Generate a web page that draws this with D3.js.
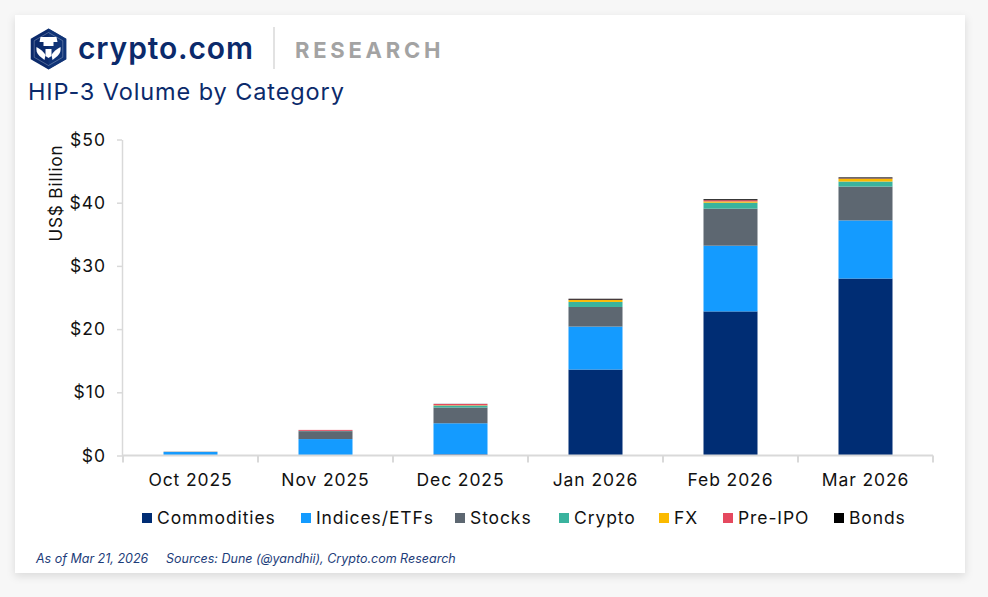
<!DOCTYPE html>
<html>
<head>
<meta charset="utf-8">
<script src="https://cdn.jsdelivr.net/npm/d3@7/dist/d3.min.js"></script>
<style>
  html, body { margin: 0; padding: 0; background: #f7f7f7; }
  svg { display: block; }
  text { font-family: Inter, "Noto Sans", sans-serif; }
</style>
</head>
<body>
<svg id="chart" width="988" height="597"></svg>
<script>
const months = ["Oct 2025", "Nov 2025", "Dec 2025", "Jan 2026", "Feb 2026", "Mar 2026"];
const seriesNames = ["Commodities", "Indices/ETFs", "Stocks", "Crypto", "FX", "Pre-IPO", "Bonds"];
const commodities = [0, 0, 0.2, 13.6, 22.8, 28.0];
const indices     = [0.55, 2.6, 4.9, 6.8, 10.4, 9.2];
const stocks      = [0.05, 1.25, 2.5, 3.1, 5.85, 5.35];
const crypto      = [0, 0.05, 0.3, 0.8, 0.95, 0.8];
const fx          = [0, 0, 0.05, 0.3, 0.2, 0.45];
const preIpo      = [0, 0.15, 0.2, 0.05, 0.2, 0.05];
const bonds       = [0, 0, 0.02, 0.15, 0.15, 0.15];
const yTicks = [0, 10, 20, 30, 40, 50];
const colors = ["#002D74", "#149BFF", "#5D6771", "#3AB39E", "#FBBA00", "#E5495F", "#000000"];

const seriesValues = [commodities, indices, stocks, crypto, fx, preIpo, bonds];
const table = months.map((m, i) => {
  const row = { month: m };
  seriesNames.forEach((s, j) => row[s] = seriesValues[j][i]);
  return row;
});

const svg = d3.select("#chart");

// card with shadow
const defs = svg.append("defs");
const f = defs.append("filter").attr("id", "shadow").attr("x", "-5%").attr("y", "-5%").attr("width", "110%").attr("height", "115%");
f.append("feDropShadow").attr("dx", 0).attr("dy", 3).attr("stdDeviation", 4).attr("flood-color", "#000").attr("flood-opacity", 0.12);
svg.append("rect").attr("x", 15).attr("y", 15).attr("width", 950).attr("height", 558)
  .attr("fill", "#fff").attr("filter", "url(#shadow)");

// logo icon (hexagon)
const logo = svg.append("g").attr("transform", "translate(48.5,49)");
const hexPts = r => d3.range(6).map(k => {
  const a = Math.PI / 180 * (60 * k - 90);
  return [r * Math.cos(a), r * Math.sin(a)].join(",");
}).join(" ");
logo.append("polygon").attr("points", hexPts(20.5)).attr("fill", "#0B2A6B");
logo.append("polygon").attr("points", "0,-20.5 17.75,-10.25 17.75,10.25 0,20.5").attr("fill", "#12377A").attr("opacity", 0.8);
logo.append("polygon").attr("points", hexPts(16.5)).attr("fill", "none").attr("stroke", "#fff").attr("stroke-opacity", 0.35).attr("stroke-width", 0.8);
// stylized white lion shape
logo.append("path").attr("fill", "#fff")
  .attr("d", "M-8,-12 L8,-12 L9,-7 L5,-7 L5,-3 L-5,-3 L-5,-7 L-9,-7 Z");
logo.append("path").attr("fill", "#fff")
  .attr("d", "M-12,-2 Q-13,3 -9,7 L-4,11 L-3,6 Q-6,1 -12,-2 Z");
logo.append("path").attr("fill", "#fff")
  .attr("d", "M12,-2 Q13,3 9,7 L4,11 L3,6 Q6,1 12,-2 Z");
logo.append("path").attr("fill", "#fff")
  .attr("d", "M-3,0 L3,0 L3,7 L0,9 L-3,7 Z");

svg.append("text").attr("x", 78).attr("y", 59).attr("font-size", 30).attr("font-weight", 600)
  .attr("fill", "#0B2A6B").attr("textLength", 175).text("crypto.com");
svg.append("line").attr("x1", 274).attr("x2", 274).attr("y1", 27).attr("y2", 69)
  .attr("stroke", "#cfcfcf").attr("stroke-width", 1.2);
svg.append("text").attr("x", 295).attr("y", 58).attr("font-size", 22).attr("font-weight", 700)
  .attr("fill", "#A3A3A3").attr("letter-spacing", 1.6).attr("textLength", 147).text("RESEARCH");

// title
svg.append("text").attr("x", 28).attr("y", 100).attr("font-size", 23.5).attr("font-weight", 400)
  .attr("letter-spacing", 0.9).attr("fill", "#0B2A6B").text("HIP-3 Volume by Category");

// scales
const x = d3.scaleBand().domain(months).range([123, 933]).paddingInner(0.6).paddingOuter(0.3);
const y = d3.scaleLinear().domain([0, 50]).range([455.5, 139.5]);

const stack = d3.stack().keys(seriesNames);
const stacked = stack(table);

const gBars = svg.append("g");
gBars.selectAll("g").data(stacked).join("g")
  .attr("fill", (d, i) => colors[i])
  .selectAll("rect").data(d => d).join("rect")
  .attr("x", d => x(d.data.month))
  .attr("width", x.bandwidth())
  .attr("y", d => y(d[1]))
  .attr("height", d => Math.max(0, y(d[0]) - y(d[1])));

// y axis
const yAxis = svg.append("g").attr("transform", "translate(122,0)")
  .call(d3.axisLeft(y).tickValues(yTicks).tickSize(5).tickSizeOuter(0).tickPadding(11).tickFormat(d => "$" + d));
yAxis.select(".domain").attr("stroke", "#d9d9d9").attr("stroke-width", 1.5);
yAxis.selectAll(".tick line").attr("stroke", "#d9d9d9").attr("stroke-width", 1.5);
yAxis.selectAll(".tick text").attr("font-size", 17.5).attr("letter-spacing", 1).attr("fill", "#111")
  .attr("font-family", "Inter, sans-serif");

// y label
svg.append("text").attr("transform", "translate(62,193) rotate(-90)").attr("text-anchor", "middle")
  .attr("font-size", 17).attr("letter-spacing", 0.9).attr("fill", "#111").text("US$ Billion");

// x axis
const xg = svg.append("g");
xg.append("line").attr("x1", x.range()[0]).attr("x2", x.range()[1]).attr("y1", y(0)).attr("y2", y(0))
  .attr("stroke", "#d9d9d9").attr("stroke-width", 2);
const bounds = d3.range(months.length + 1).map(i => x.range()[0] + i * x.step());
xg.selectAll("line.tk").data(bounds).join("line").attr("class", "tk")
  .attr("x1", d => d).attr("x2", d => d).attr("y1", y(0)).attr("y2", y(0) + 7)
  .attr("stroke", "#d9d9d9").attr("stroke-width", 2);
xg.selectAll("text").data(months).join("text")
  .attr("x", d => x(d) + x.bandwidth() / 2).attr("y", 486).attr("text-anchor", "middle")
  .attr("font-size", 17.5).attr("letter-spacing", 0.9).attr("fill", "#111").text(d => d);

// legend
const legendX = [142, 301, 455, 559, 659, 723, 834];
const lg = svg.append("g");
seriesNames.forEach((s, i) => {
  lg.append("rect").attr("x", legendX[i]).attr("y", 513).attr("width", 10).attr("height", 10).attr("fill", colors[i]);
  lg.append("text").attr("x", legendX[i] + 15).attr("y", 524).attr("font-size", 17.5).attr("letter-spacing", 0.9)
    .attr("fill", "#111").text(s);
});

// footer
svg.append("text").attr("x", 36).attr("y", 563).attr("font-size", 12.5).attr("font-style", "italic")
  .attr("fill", "#1D3D7A").text("As of Mar 21, 2026");
svg.append("text").attr("x", 166).attr("y", 563).attr("font-size", 12.5).attr("font-style", "italic")
  .attr("fill", "#1D3D7A").text("Sources: Dune (@yandhii), Crypto.com Research");
</script>
</body>
</html>
